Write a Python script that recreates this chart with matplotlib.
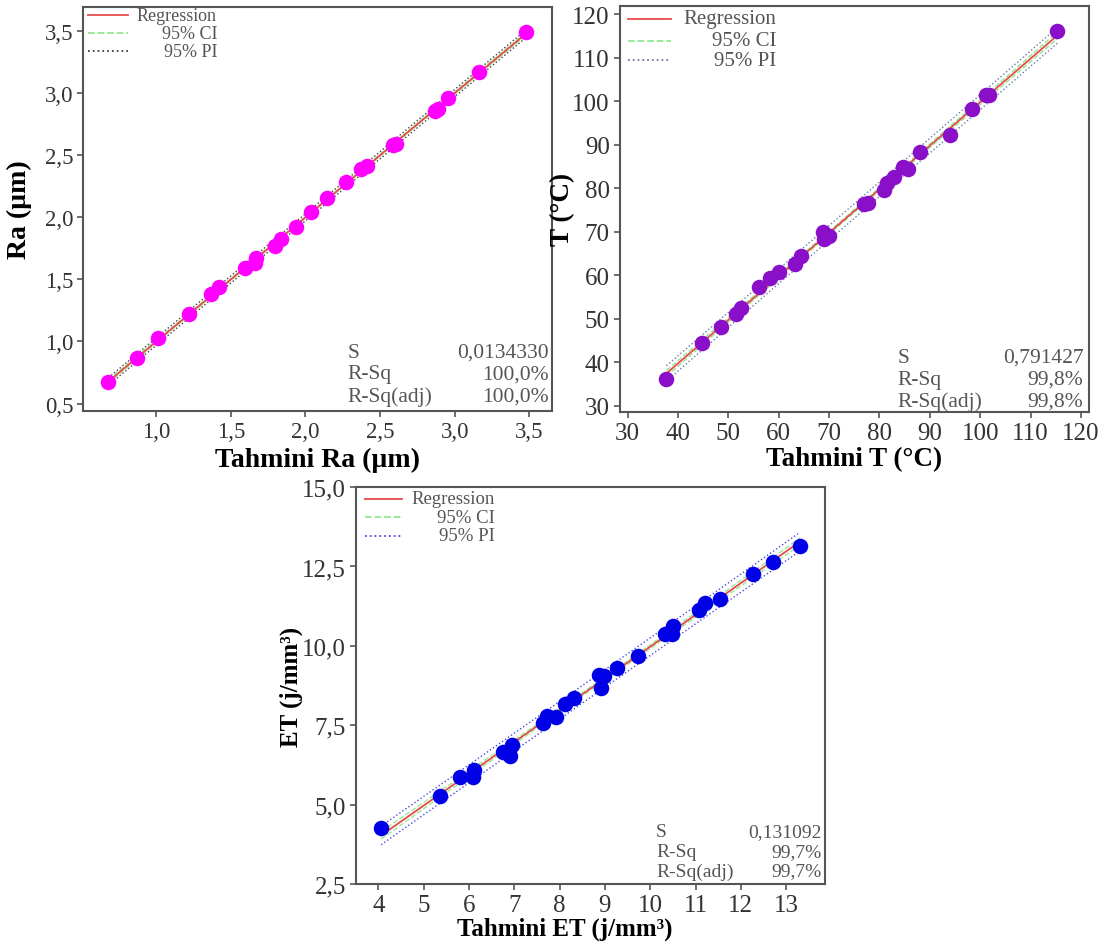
import matplotlib.pyplot as plt
import numpy as np
from matplotlib.ticker import FuncFormatter

plt.rcParams['font.family'] = ['Liberation Serif', 'DejaVu Serif']

# Ra: predicted vs measured (um)
ra_pred = [0.68, 0.875, 1.015, 1.22, 1.365, 1.42, 1.595, 1.66, 1.67, 1.795, 1.835, 1.935,
           2.04, 2.145, 2.27, 2.375, 2.415, 2.585, 2.605, 2.865, 2.885, 2.955, 3.165, 3.48]
ra_meas = [0.67, 0.87, 1.03, 1.22, 1.38, 1.44, 1.59, 1.63, 1.67, 1.77, 1.82, 1.92,
           2.04, 2.15, 2.28, 2.39, 2.41, 2.58, 2.59, 2.85, 2.87, 2.96, 3.17, 3.49]

# T: predicted vs measured (C)
t_pred = [37.7, 44.8, 48.5, 51.6, 52.5, 56.1, 58.2, 60.1, 63.3, 64.5, 68.7, 69.0, 70.0,
          77.0, 77.7, 80.9, 81.5, 82.9, 84.6, 85.6, 88.0, 93.9, 98.3, 101.2, 101.8, 115.3]
t_meas = [36.1, 44.5, 48.2, 51.1, 52.6, 57.4, 59.3, 60.8, 62.7, 64.5, 69.9, 68.4, 69.1,
          76.4, 76.7, 79.7, 81.2, 82.5, 84.8, 84.5, 88.3, 92.3, 98.3, 101.4, 101.5, 116.1]

# ET: predicted vs measured (j/mm3)
et_pred = [4.06, 5.35, 5.81, 6.08, 6.12, 6.74, 6.90, 6.94, 7.64, 7.72, 7.91, 8.12, 8.32,
           8.86, 8.92, 8.98, 9.26, 9.72, 10.33, 10.47, 10.51, 11.08, 11.22, 11.53, 12.27, 12.72, 13.31]
et_meas = [4.27, 5.26, 5.86, 5.86, 6.10, 6.65, 6.54, 6.89, 7.57, 7.78, 7.76, 8.17, 8.36,
           9.07, 8.67, 9.04, 9.29, 9.67, 10.38, 10.36, 10.62, 11.14, 11.35, 11.46, 12.25, 12.65, 13.14]

# reported fit statistics
s_vals = [0.0134330, 0.791427, 0.131092]
s_text = ['0,0134330', '0,791427', '0,131092']
rsq_text = ['100,0%', '99,8%', '99,7%']
rsq_adj_text = ['100,0%', '99,8%', '99,7%']

T_CRIT = 2.07  # approx t(0.975, n-2)

def comma(fmt):
    return FuncFormatter(lambda v, p: (fmt % v).replace('.', ','))

def fit_plot(ax, x, y, s, color, pi_color, ci_color):
    x = np.array(x)
    y = np.array(y)
    n = len(x)
    b1, b0 = np.polyfit(x, y, 1)
    xs = np.linspace(x.min(), x.max(), 100)
    yh = b0 + b1 * xs
    sxx = np.sum((x - x.mean()) ** 2)
    se_ci = s * np.sqrt(1 / n + (xs - x.mean()) ** 2 / sxx)
    se_pi = s * np.sqrt(1 + 1 / n + (xs - x.mean()) ** 2 / sxx)
    ax.plot(xs, yh + T_CRIT * se_pi, ':', color=pi_color, lw=1.0, zorder=2)
    ax.plot(xs, yh - T_CRIT * se_pi, ':', color=pi_color, lw=1.0, zorder=2)
    ax.plot(xs, yh + T_CRIT * se_ci, '--', color=ci_color, lw=1.0, zorder=2)
    ax.plot(xs, yh - T_CRIT * se_ci, '--', color=ci_color, lw=1.0, zorder=2)
    ax.plot(xs, yh, '-', color='#e84a4a', lw=1.3, zorder=3)
    ax.scatter(x, y, s=125, color=color, zorder=4, linewidths=0)

def style(ax, tick_size):
    for sp in ax.spines.values():
        sp.set_color('#555555')
        sp.set_linewidth(1.5)
    ax.tick_params(direction='out', length=4, width=1.2, color='#555555',
                   labelsize=tick_size, labelcolor='#333333', pad=3)

def legend_box(ax, x0, x1, xt, ys, size, pi_color):
    specs = [('-', '#e84a4a', 'Regression'), ('--', '#90e890', '95% CI'), (':', pi_color, '95% PI')]
    for (ls, c, lab), yy in zip(specs, ys):
        ax.plot([x0, x1], [yy, yy], ls, color=c, lw=1.3, transform=ax.transAxes, clip_on=False)
        ax.text(xt, yy, lab, transform=ax.transAxes, ha='right', va='center',
                fontsize=size, color='#555555')

def stats_box(ax, i, xl, xr, ys, size):
    labels = ['S', 'R-Sq', 'R-Sq(adj)']
    vals = [s_text[i], rsq_text[i], rsq_adj_text[i]]
    for lab, v, yy in zip(labels, vals, ys):
        ax.text(xl, yy, lab, transform=ax.transAxes, ha='left', va='center',
                fontsize=size, color='#555555')
        ax.text(xr, yy, v, transform=ax.transAxes, ha='right', va='center',
                fontsize=size, color='#555555')

fig = plt.figure(figsize=(11.03, 9.45), dpi=100)

# Ra
ax1 = fig.add_axes([0.0752, 0.564, 0.425, 0.4275])
fit_plot(ax1, ra_pred, ra_meas, s_vals[0], '#ff00ff', '#404040', '#90e890')
ax1.set_xlim(0.51, 3.65)
ax1.set_ylim(0.44, 3.69)
ax1.set_xticks(np.arange(1.0, 3.51, 0.5))
ax1.set_yticks(np.arange(0.5, 3.51, 0.5))
ax1.xaxis.set_major_formatter(comma('%.1f'))
ax1.yaxis.set_major_formatter(comma('%.1f'))
style(ax1, 16.5)
ax1.set_xlabel('Tahmini Ra (µm)', fontsize=20, fontweight='bold')
ax1.set_ylabel('Ra (µm)', fontsize=20, fontweight='bold')
ax1.xaxis.set_label_coords(0.5, -0.088)
ax1.yaxis.set_label_coords(-0.109, 0.5)
legend_box(ax1, 0.011, 0.096, 0.286, [0.98, 0.935, 0.891], 13, '#404040')
stats_box(ax1, 0, 0.565, 0.994, [0.146, 0.092, 0.037], 15.5)

# T
ax2 = fig.add_axes([0.5617, 0.563, 0.4252, 0.43])
fit_plot(ax2, t_pred, t_meas, s_vals[1], '#8a0fc8', '#6a7aa8', '#90e890')
ax2.set_xlim(28.4, 121.5)
ax2.set_ylim(28.6, 122)
ax2.set_xticks(np.arange(30, 121, 10))
ax2.set_yticks(np.arange(30, 121, 10))
style(ax2, 18)
ax2.set_xlabel('Tahmini T (°C)', fontsize=19.5, fontweight='bold')
ax2.set_ylabel('T (°C)', fontsize=19.5, fontweight='bold')
ax2.xaxis.set_label_coords(0.5, -0.084)
ax2.yaxis.set_label_coords(-0.095, 0.5)
legend_box(ax2, 0.017, 0.109, 0.334, [0.968, 0.914, 0.865], 15, '#6a7aa8')
stats_box(ax2, 1, 0.593, 0.989, [0.135, 0.081, 0.027], 15.5)

# ET
ax3 = fig.add_axes([0.3226, 0.0635, 0.4254, 0.42])
fit_plot(ax3, et_pred, et_meas, s_vals[2], '#0000e6', '#4a4ae6', '#9ae89a')
ax3.set_xlim(3.50, 13.86)
ax3.set_ylim(2.5, 15.0)
ax3.set_xticks(np.arange(4, 14, 1))
ax3.set_yticks(np.arange(2.5, 15.01, 2.5))
ax3.yaxis.set_major_formatter(comma('%.1f'))
style(ax3, 18)
ax3.set_xlabel('Tahmini ET (j/mm³)', fontsize=18, fontweight='bold')
ax3.set_ylabel('ET (j/mm³)', fontsize=18, fontweight='bold')
ax3.xaxis.set_label_coords(0.446, -0.083)
ax3.yaxis.set_label_coords(-0.1125, 0.5)
legend_box(ax3, 0.019, 0.099, 0.296, [0.97, 0.924, 0.877], 13.5, '#4a4ae6')
stats_box(ax3, 2, 0.64, 0.993, [0.131, 0.081, 0.033], 14)

fig.savefig('out.png', dpi=100)
